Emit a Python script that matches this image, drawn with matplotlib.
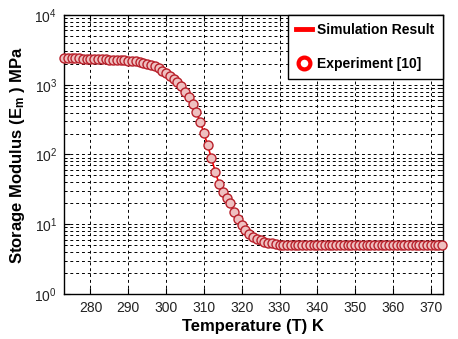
import matplotlib
matplotlib.use('Agg')
import matplotlib.pyplot as plt
from matplotlib.lines import Line2D
from matplotlib.ticker import LogLocator, NullFormatter

plt.rcParams['font.family'] = ['Liberation Sans', 'DejaVu Sans']
plt.rcParams['mathtext.fontset'] = 'custom'
plt.rcParams['mathtext.rm'] = 'Liberation Sans'
plt.rcParams['mathtext.bf'] = 'Liberation Sans:bold'
plt.rcParams['mathtext.it'] = 'Liberation Sans:italic'

# Temperature (K) and storage modulus (MPa)
temperature = [273, 274, 275, 276, 277, 278, 279, 280, 281, 282,
               283, 284, 285, 286, 287, 288, 289, 290, 291, 292,
               293, 294, 295, 296, 297, 298, 299, 300, 301, 302,
               303, 304, 305, 306, 307, 308, 309, 310, 311, 312,
               313, 314, 315, 316, 317, 318, 319, 320, 321, 322,
               323, 324, 325, 326, 327, 328, 329, 330, 331, 332,
               333, 334, 335, 336, 337, 338, 339, 340, 341, 342,
               343, 344, 345, 346, 347, 348, 349, 350, 351, 352,
               353, 354, 355, 356, 357, 358, 359, 360, 361, 362,
               363, 364, 365, 366, 367, 368, 369, 370, 371, 372, 373]
modulus = [2420, 2410, 2400, 2390, 2380, 2370, 2360, 2350, 2340, 2330,
           2320, 2310, 2300, 2290, 2280, 2265, 2245, 2220, 2190, 2155,
           2110, 2060, 1995, 1920, 1830, 1720, 1590, 1450, 1320, 1200,
           1090, 960, 800, 660, 525, 410, 295, 205, 135, 88,
           57, 38, 29, 24, 20, 15, 11.8, 9.6, 8.2, 7.2,
           6.6, 6.2, 5.9, 5.6, 5.4, 5.3, 5.2, 5.1, 5.05, 5.0,
           5.0, 5.0, 5.0, 5.0, 5.0, 5.0, 5.0, 5.0, 5.0, 5.0,
           5.0, 5.0, 5.0, 5.0, 5.0, 5.0, 5.0, 5.0, 5.0, 5.0,
           5.0, 5.0, 5.0, 5.0, 5.0, 5.0, 5.0, 5.0, 5.0, 5.0,
           5.0, 5.0, 5.0, 5.0, 5.0, 5.0, 5.0, 5.0, 5.0, 5.0, 5.0]
xticks = [280, 290, 300, 310, 320, 330, 340, 350, 360, 370]

fig = plt.figure(figsize=(4.58, 3.39), dpi=100)
ax = fig.add_axes([0.1397, 0.1327, 0.8273, 0.8231])

ax.semilogy(temperature, modulus, color='red', linewidth=1.2, zorder=3)
ax.semilogy(temperature, modulus, linestyle='none', marker='o', markersize=6.5,
            markerfacecolor='#efc0c0', markeredgecolor='#b8202a',
            markeredgewidth=1.0, zorder=4, clip_on=False)

ax.set_xlim(273, 373.2)
ax.set_ylim(1, 1e4)
ax.set_xticks(xticks)
ax.yaxis.set_major_locator(LogLocator(base=10, numticks=10))
ax.yaxis.set_minor_locator(LogLocator(base=10, subs=range(2, 10), numticks=10))
ax.yaxis.set_minor_formatter(NullFormatter())

ax.grid(True, which='major', axis='both', color='black', linestyle=(0, (3, 3)), linewidth=0.7)
ax.grid(True, which='minor', axis='y', color='black', linestyle=(0, (3, 3)), linewidth=0.7)
ax.tick_params(which='both', direction='in', top=True, right=True, labelsize=10, pad=5,
               labelcolor='#222222')
ax.tick_params(which='major', length=4)
ax.tick_params(which='minor', length=2)
for s in ax.spines.values():
    s.set_linewidth(1.0)

ax.set_xlabel('Temperature (T) K', fontsize=12, fontweight='bold', labelpad=3)
ax.set_ylabel(r'Storage Modulus (E$_{\mathbf{m}}$ ) MPa', fontsize=12, fontweight='bold', labelpad=5)

handles = [
    Line2D([], [], color='red', linewidth=3.5),
    Line2D([], [], linestyle='none', marker='o', markersize=8.5,
           markerfacecolor='white', markeredgecolor='red', markeredgewidth=3.0),
]
leg = ax.legend(handles, ['Simulation Result', 'Experiment [10]'], loc='upper right',
                borderaxespad=0, fancybox=False, framealpha=1, edgecolor='black',
                prop={'weight': 'bold', 'size': 10}, handlelength=1.1,
                handletextpad=0.4, labelspacing=1.4, borderpad=0.6)
leg.get_frame().set_linewidth(1.0)
leg.set_zorder(10)

fig.savefig('out.png', dpi=100)
